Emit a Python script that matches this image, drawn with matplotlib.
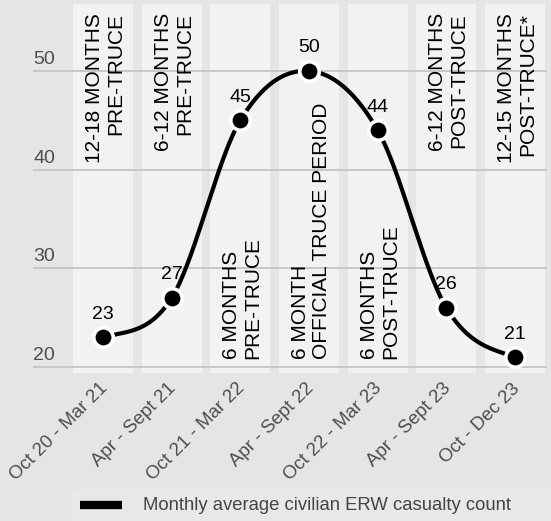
import numpy as np
import matplotlib
matplotlib.use("Agg")
import matplotlib.pyplot as plt
import matplotlib.transforms as mtransforms

plt.rcParams['font.family'] = ['Liberation Sans', 'DejaVu Sans']

# ---- data ----
periods = ["Oct 20 - Mar 21", "Apr - Sept 21", "Oct 21 - Mar 22", "Apr - Sept 22",
           "Oct 22 - Mar 23", "Apr - Sept 23", "Oct - Dec 23"]
casualties = [23, 27, 45, 50, 44, 26, 21]
band_labels = ["12-18 MONTHS\nPRE-TRUCE", "6-12 MONTHS\nPRE-TRUCE", "6 MONTHS\nPRE-TRUCE",
               "6 MONTH\nOFFICIAL TRUCE PERIOD", "6 MONTHS\nPOST-TRUCE",
               "6-12 MONTHS\nPOST-TRUCE", "12-15 MONTHS\nPOST-TRUCE*"]
band_label_at_top = [True, True, False, False, False, True, True]
yticks = [20, 30, 40, 50]
legend_label = "Monthly average civilian ERW casualty count"

# ---- layout (pixels) ----
W, H = 551, 521
BG = '#e5e5e5'
BAND = '#f2f2f2'
GRID = '#c4c4c4'
GRAY = '#4d4d4d'

fig = plt.figure(figsize=(W / 100, H / 100), dpi=100, facecolor=BG)
ax_left, ax_right, ax_top, ax_bot = 33, 547, 4, 373
ax = fig.add_axes([ax_left / W, (H - ax_bot) / H, (ax_right - ax_left) / W, (ax_bot - ax_top) / H])
ax.set_facecolor('none')

ppu_y = (367 - 71) / 30.0
ppu_x = (515 - 103) / 6.0
ax.set_ylim(20 - (ax_bot - 367) / ppu_y, 50 + (71 - ax_top) / ppu_y)
ax.set_xlim((ax_left - 103) / ppu_x, 6 + (ax_right - 515) / ppu_x)
for s in ax.spines.values():
    s.set_visible(False)

x = np.arange(len(casualties))
y = np.array(casualties, dtype=float)

# bands
half = 30 / ppu_x
for i in x:
    ax.axvspan(i - half, i + half, color=BAND, zorder=0, lw=0)

# gridlines + y labels above them
ax.set_yticks([])
tr = mtransforms.blended_transform_factory(ax.transAxes, ax.transData)
for v in yticks:
    ax.axhline(v, color=GRID, lw=1.3, zorder=1)
    ax.text(0, v + 3 / ppu_y, str(v), transform=tr, ha='left', va='bottom',
            fontsize=14, color=GRAY, zorder=2)

# band labels
trb = mtransforms.blended_transform_factory(ax.transData, ax.transAxes)
hgt = ax_bot - ax_top
for i, (lab, top) in enumerate(zip(band_labels, band_label_at_top)):
    if top:
        ax.text(i + 0.03, 1 - 9 / hgt, lab, transform=trb, rotation=90, ha='center', va='top',
                multialignment='right', fontsize=15, color='black', linespacing=1.15, zorder=2)
    else:
        ax.text(i + 0.03, (ax_bot - 359) / hgt, lab, transform=trb, rotation=90, ha='center',
                va='bottom', multialignment='left', fontsize=15, color='black',
                linespacing=1.15, zorder=2)

# smooth curve (cardinal / Catmull-Rom spline through the points)
m = np.zeros_like(y)
m[1:-1] = (y[2:] - y[:-2]) / 2.0
m[0] = (y[1] - y[0]) / 2.0
m[-1] = (y[-1] - y[-2]) / 2.0
xs, ys = [], []
t = np.linspace(0, 1, 60)
h00 = 2 * t**3 - 3 * t**2 + 1
h10 = t**3 - 2 * t**2 + t
h01 = -2 * t**3 + 3 * t**2
h11 = t**3 - t**2
for i in range(len(y) - 1):
    xs.append(x[i] + t)
    ys.append(h00 * y[i] + h10 * m[i] + h01 * y[i + 1] + h11 * m[i + 1])
ax.plot(np.concatenate(xs), np.concatenate(ys), color='black', lw=3, zorder=3,
        solid_capstyle='round')

ax.plot(x, y, 'o', ms=14, mfc='black', mec='white', mew=2.6, zorder=4)
for xi, yi in zip(x, casualties):
    ax.annotate(str(yi), (xi, yi), xytext=(0, 10.5), textcoords='offset points',
                ha='center', va='bottom', fontsize=14, color='black', zorder=5)

# x tick labels
ax.set_xticks(x)
ax.set_xticklabels(periods, rotation=45, ha='right', va='top', rotation_mode='anchor',
                   fontsize=13.5, color=GRAY)
ax.tick_params(axis='x', length=0, pad=5)
shift = mtransforms.ScaledTranslation(-3 / 72, 0, fig.dpi_scale_trans)
for lbl in ax.get_xticklabels():
    lbl.set_transform(lbl.get_transform() + shift)

# legend area
fig.patches.append(plt.Rectangle((73 / W, 0), 1 - 73 / W, 31 / H, transform=fig.transFigure,
                                 facecolor='#e8e8e8', edgecolor='none', zorder=0))
fig.add_artist(plt.Line2D([80 / W, 122 / W], [(H - 505) / H] * 2, color='black', lw=6,
                          solid_capstyle='butt', transform=fig.transFigure))
fig.text(143 / W, (H - 505) / H, legend_label, ha='left', va='center', fontsize=13.3,
         color='#444444')

fig.savefig('out.png', dpi=100, facecolor=BG)
